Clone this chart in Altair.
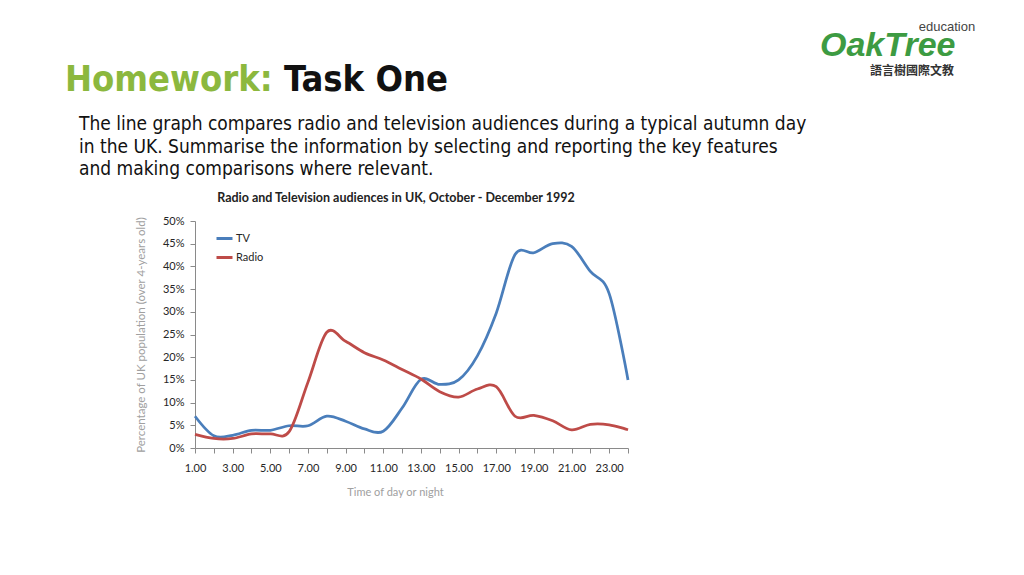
import altair as alt
import pandas as pd

hours = list(range(1, 25))
tv = [7.0, 2.7, 2.8, 3.9, 3.9, 4.9, 4.9, 7.0, 5.9, 4.2, 3.7, 8.8, 15.1, 14.0, 15.0,
      20.3, 29.7, 42.6, 43.0, 45.0, 44.4, 38.9, 34.0, 15.0]
radio = [3.0, 2.1, 2.1, 3.1, 3.1, 3.6, 14.5, 25.5, 23.5, 21.0, 19.4, 17.3, 15.2, 12.4,
         11.2, 13.0, 13.5, 7.0, 7.2, 6.0, 4.0, 5.2, 5.1, 4.0]
series_names = ["TV", "Radio"]
series_colors = ["#4a7ebb", "#be4b48"]
y_ticks = [0, 5, 10, 15, 20, 25, 30, 35, 40, 45, 50]

chart_title = "Radio and Television audiences in UK, October - December 1992"
x_title = "Time of day or night"
y_title = "Percentage of UK population (over 4-years old)"
slide_heading = "Homework:"
slide_heading_rest = "Task One"
body_lines = [
    "The line graph compares radio and television audiences during a typical autumn day",
    "in the UK. Summarise the information by selecting and reporting the key features",
    "and making comparisons where relevant.",
]

df = pd.DataFrame({
    "hour": hours * 2,
    "value": tv + radio,
    "series": ["TV"] * len(hours) + ["Radio"] * len(hours),
})

FONT = "Lato"
SLIDE_FONT = "DejaVu Sans Condensed, sans-serif"

lines = alt.Chart(df).mark_line(interpolate="cardinal", strokeWidth=2.75).encode(
    x=alt.X("hour:Q",
            scale=alt.Scale(domain=[1, 24], nice=False, zero=False),
            axis=alt.Axis(values=hours, title=x_title, grid=False, labelFlush=False,
                          labelExpr="datum.value % 2 == 1 ? format(datum.value, '.2f') : ''",
                          tickSize=5, labelPadding=9, titlePadding=13,
                          titleX=200, titleAnchor="middle")),
    y=alt.Y("value:Q",
            scale=alt.Scale(domain=[0, 50], nice=False),
            axis=alt.Axis(values=y_ticks, title=y_title, grid=False, labelFlush=False,
                          labelExpr="datum.value + '%'", tickSize=5,
                          labelPadding=6, titlePadding=16, titleFontSize=11.5)),
    color=alt.Color("series:N",
                    scale=alt.Scale(domain=series_names, range=series_colors),
                    sort=series_names,
                    legend=alt.Legend(title=None, orient="none", legendX=20, legendY=8,
                                      symbolType="stroke", symbolSize=256,
                                      symbolStrokeWidth=3, labelFontSize=11,
                                      labelColor="#262626", labelFont=FONT,
                                      rowPadding=3, padding=0, labelOffset=2)),
    order=alt.Order("hour:Q"),
)

title_text = alt.Chart(pd.DataFrame({"t": [chart_title]})).mark_text(
    font=FONT, fontSize=12.5, fontWeight="bold", color="#222222", align="center",
    baseline="middle"
).encode(text="t:N", x=alt.value(201), y=alt.value(-23))

head_green = alt.Chart(pd.DataFrame({"t": [slide_heading]})).mark_text(
    font=SLIDE_FONT, fontSize=36, fontWeight="bold", color="#8cb83e", align="left",
    baseline="alphabetic"
).encode(text="t:N", x=alt.value(-130), y=alt.value(-130))

head_black = alt.Chart(pd.DataFrame({"t": [slide_heading_rest]})).mark_text(
    font=SLIDE_FONT, fontSize=36, fontWeight="bold", color="#111111", align="left",
    baseline="alphabetic"
).encode(text="t:N", x=alt.value(89), y=alt.value(-130))

body = alt.Chart(pd.DataFrame({"t": body_lines, "i": [0, 1, 2]})).mark_text(
    font=SLIDE_FONT, fontSize=19, color="#111111", align="left", baseline="middle"
).encode(text="t:N", x=alt.value(-116),
         y=alt.Y("i:Q", axis=None, scale=alt.Scale(domain=[0, 2], range=[-97, -52])))

logo_main = alt.Chart(pd.DataFrame({"t": ["OakTree"]})).mark_text(
    font="Liberation Sans, sans-serif", fontSize=34, fontWeight="bold", fontStyle="italic",
    color="#3d9b42", align="left", baseline="middle"
).encode(text="t:N", x=alt.value(625), y=alt.value(-175))

logo_edu = alt.Chart(pd.DataFrame({"t": ["education"]})).mark_text(
    font="Liberation Sans, sans-serif", fontSize=13, color="#444444", align="center",
    baseline="middle"
).encode(text="t:N", x=alt.value(752), y=alt.value(-194))

logo_cn = alt.Chart(pd.DataFrame({"t": ["語言樹國際文教"]})).mark_text(
    font="Noto Sans CJK TC", fontSize=12, fontWeight="bold", color="#333333",
    align="center", baseline="middle"
).encode(text="t:N", x=alt.value(717), y=alt.value(-150))

chart = alt.layer(
    lines, title_text, head_green, head_black, body, logo_main, logo_edu, logo_cn
).resolve_scale(y="independent").properties(
    width=433, height=227,
    autosize=alt.AutoSizeParams(type="none"),
    padding={"left": 187, "top": 213, "right": 388, "bottom": 110},
    background="white",
).configure_view(stroke=None).configure_axis(
    labelFont=FONT, titleFont=FONT, labelFontSize=11, titleFontSize=11,
    labelColor="#262626", titleColor="#a0a0a0", titleFontWeight="normal",
    domainColor="#8a8a8a", tickColor="#8a8a8a",
)

chart.save("out.html", embed_options={"renderer": "svg", "actions": False})
